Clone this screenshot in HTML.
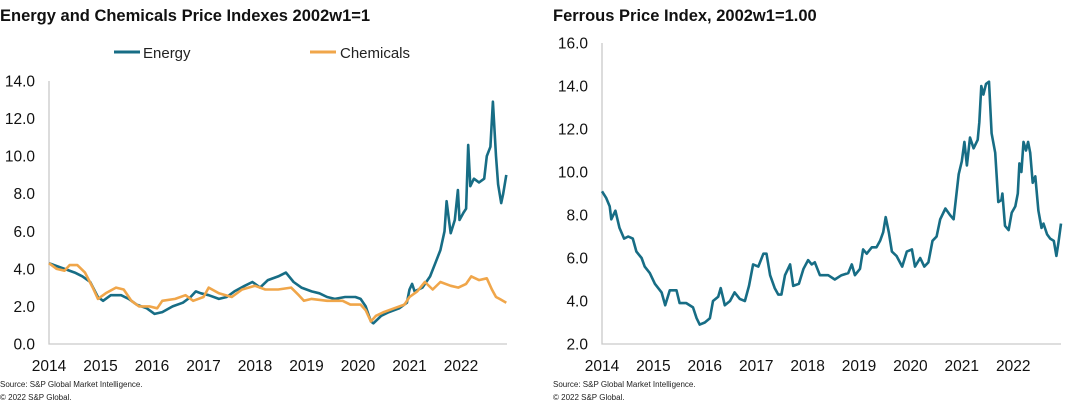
<!DOCTYPE html>
<html><head><meta charset="utf-8">
<style>
html,body{margin:0;padding:0;background:#fff;}
svg{display:block;font-family:"Liberation Sans",Arial,sans-serif;}
</style></head>
<body>
<svg id="c" width="1090" height="405" viewBox="0 0 1090 405">
  <text x="0" y="21" font-size="16.5" font-weight="bold" fill="#111">Energy and Chemicals Price Indexes 2002w1=1</text>
  <text x="553" y="21" font-size="16.5" font-weight="bold" fill="#111">Ferrous Price Index, 2002w1=1.00</text>
  <g>
    <line x1="114" y1="52" x2="140" y2="52" stroke="#176d85" stroke-width="3"/>
    <text x="143" y="58" font-size="15" fill="#222">Energy</text>
  </g>
  <g>
    <line x1="310" y1="52" x2="336" y2="52" stroke="#f0a64a" stroke-width="3"/>
    <text x="340" y="58" font-size="15" fill="#222">Chemicals</text>
  </g>
  <text x="0" y="387" font-size="8" fill="#222">Source: S&amp;P Global Market Intelligence.</text>
  <text x="0" y="400" font-size="8" fill="#222">© 2022 S&amp;P Global.</text>
  <text x="553" y="387" font-size="8" fill="#222">Source: S&amp;P Global Market Intelligence.</text>
  <text x="553" y="400" font-size="8" fill="#222">© 2022 S&amp;P Global.</text>
</svg>
<script>
// ---- data ----
const yearLabels = ["2014","2015","2016","2017","2018","2019","2020","2021","2022"];
const leftTicks = [0,2,4,6,8,10,12,14];
const rightTicks = [2,4,6,8,10,12,14,16];
// years since 2014
const energyT = [0,0.1,0.3,0.5,0.65,0.8,0.95,1.05,1.2,1.4,1.55,1.7,1.9,2.05,2.2,2.4,2.6,2.75,2.85,2.95,3.1,3.3,3.45,3.6,3.8,3.95,4.1,4.25,4.45,4.6,4.75,4.9,5.1,5.25,5.4,5.55,5.75,5.95,6.05,6.15,6.25,6.3,6.45,6.6,6.8,6.95,7.0,7.05,7.1,7.25,7.4,7.5,7.6,7.68,7.72,7.77,7.8,7.88,7.94,7.97,8.05,8.1,8.14,8.18,8.25,8.35,8.45,8.5,8.57,8.62,8.68,8.72,8.78,8.82,8.88];
const energyV = [4.3,4.2,4.0,3.8,3.6,3.3,2.5,2.3,2.6,2.6,2.4,2.1,1.9,1.6,1.7,2.0,2.2,2.5,2.8,2.7,2.6,2.4,2.5,2.8,3.1,3.3,3.0,3.4,3.6,3.8,3.3,3.0,2.8,2.7,2.5,2.4,2.5,2.5,2.4,2.0,1.2,1.1,1.5,1.7,1.9,2.2,2.9,3.2,2.8,3.0,3.6,4.3,5.0,6.0,7.6,6.5,5.9,6.6,8.2,6.6,7.0,7.2,10.6,8.4,8.8,8.6,8.8,10.0,10.5,12.9,10.0,8.5,7.5,8.0,9.0];
const chemT = [0,0.15,0.3,0.4,0.55,0.7,0.85,0.95,1.1,1.3,1.45,1.6,1.75,1.95,2.1,2.2,2.45,2.65,2.8,3.0,3.1,3.3,3.55,3.75,4.0,4.2,4.45,4.7,4.85,4.95,5.1,5.4,5.7,5.85,6.05,6.15,6.25,6.35,6.5,6.7,6.9,7.0,7.15,7.3,7.45,7.6,7.8,7.95,8.1,8.2,8.35,8.5,8.6,8.68,8.75,8.88];
const chemV = [4.3,4.0,3.9,4.2,4.2,3.8,3.0,2.4,2.7,3.0,2.9,2.3,2.0,2.0,1.9,2.3,2.4,2.6,2.3,2.5,3.0,2.7,2.5,2.9,3.1,2.9,2.9,3.0,2.6,2.3,2.4,2.3,2.3,2.1,2.1,1.8,1.2,1.5,1.7,1.9,2.1,2.5,2.8,3.3,2.9,3.3,3.1,3.0,3.2,3.6,3.4,3.5,2.9,2.5,2.4,2.2];
const ferrousT = [0,0.08,0.15,0.18,0.26,0.34,0.43,0.51,0.60,0.67,0.77,0.83,0.93,1.03,1.16,1.23,1.32,1.45,1.51,1.64,1.77,1.84,1.90,2.0,2.10,2.16,2.26,2.31,2.39,2.49,2.58,2.68,2.78,2.86,2.94,3.04,3.14,3.20,3.27,3.36,3.43,3.49,3.56,3.66,3.72,3.83,3.92,4.01,4.08,4.14,4.24,4.40,4.53,4.66,4.79,4.86,4.92,5.02,5.08,5.15,5.25,5.34,5.41,5.47,5.52,5.58,5.64,5.73,5.84,5.93,6.03,6.09,6.19,6.27,6.35,6.43,6.51,6.58,6.68,6.77,6.84,6.94,7.0,7.05,7.10,7.16,7.23,7.31,7.34,7.38,7.42,7.47,7.53,7.58,7.65,7.71,7.77,7.79,7.84,7.91,7.97,8.04,8.09,8.12,8.16,8.20,8.25,8.29,8.33,8.38,8.43,8.49,8.55,8.59,8.66,8.72,8.79,8.84,8.88,8.93];
const ferrousV = [9.1,8.8,8.4,7.8,8.2,7.4,6.9,7.0,6.9,6.3,6.0,5.6,5.3,4.8,4.4,3.8,4.5,4.5,3.9,3.9,3.7,3.2,2.9,3.0,3.2,4.0,4.2,4.6,3.8,4.0,4.4,4.1,4.0,4.7,5.7,5.6,6.2,6.2,5.2,4.6,4.3,4.3,5.2,5.7,4.7,4.8,5.5,5.9,5.7,5.8,5.2,5.2,5.0,5.2,5.3,5.7,5.2,5.5,6.4,6.2,6.5,6.5,6.8,7.2,7.9,7.2,6.3,6.1,5.6,6.3,6.4,5.6,6.0,5.6,5.8,6.8,7.0,7.8,8.3,8.0,7.8,9.9,10.5,11.4,10.3,11.6,11.1,11.5,12.3,14.0,13.6,14.1,14.2,11.8,10.9,8.6,8.7,9.0,7.5,7.3,8.1,8.4,9.0,10.4,10.0,11.4,11.0,11.4,10.9,9.5,9.8,8.2,7.4,7.6,7.1,6.9,6.8,6.1,6.7,7.6];

const NS = "http://www.w3.org/2000/svg";
const svg = document.getElementById('c');
function mk(tag, attrs){const e=document.createElementNS(NS,tag);for(const k in attrs)e.setAttribute(k,attrs[k]);return e;}

function drawPanel(cfg){
  const g = mk('g',{});
  
  
  svg.appendChild(g);
  const xS = t => cfg.x0 + t*cfg.pxYear;
  const yS = v => cfg.yBot - (v-cfg.vMin)*(cfg.yBot-cfg.yTop)/(cfg.vMax-cfg.vMin);
  const axes = mk('path',{d:`M${cfg.x0},${yS(cfg.vMax)} L${cfg.x0},${cfg.yBot} L${cfg.xEnd},${cfg.yBot}`,fill:'none',stroke:'#c9c9c9','stroke-width':1.3});
  
  
  g.appendChild(axes);
  cfg.ticks.forEach(v=>{
    const t = mk('text',{x:cfg.x0-14,y:yS(v)+5.5,'font-size':15.5,'text-anchor':'end',fill:'#111'});
    t.textContent = v.toFixed(1);
    
    
    g.appendChild(t);
  });
  yearLabels.forEach((lab,i)=>{
    const t = mk('text',{x:xS(i),y:371,'font-size':15.5,'text-anchor':'middle',fill:'#111'});
    t.textContent = lab;
    
    
    g.appendChild(t);
  });
  cfg.series.forEach(s=>{
    const d = s.t.map((t,i)=>(i?'L':'M')+xS(t).toFixed(1)+','+yS(s.v[i]).toFixed(1)).join(' ');
    const p = mk('path',{d:d,fill:'none',stroke:s.color,'stroke-width':2.6,'stroke-linejoin':'round'});
    
    
    g.appendChild(p);
  });
}
drawPanel({name:'left-chart',x0:49,pxYear:51.5,xEnd:507,yBot:344,yTop:81,vMin:0,vMax:14,ticks:leftTicks,
  series:[{name:'energy-line',t:energyT,v:energyV,color:'#176d85'},{name:'chemicals-line',t:chemT,v:chemV,color:'#f0a64a'}]});
drawPanel({name:'right-chart',x0:602,pxYear:51.4,xEnd:1061,yBot:344,yTop:43,vMin:2,vMax:16,ticks:rightTicks,
  series:[{name:'ferrous-line',t:ferrousT,v:ferrousV,color:'#176d85'}]});
</script>
</body></html>
